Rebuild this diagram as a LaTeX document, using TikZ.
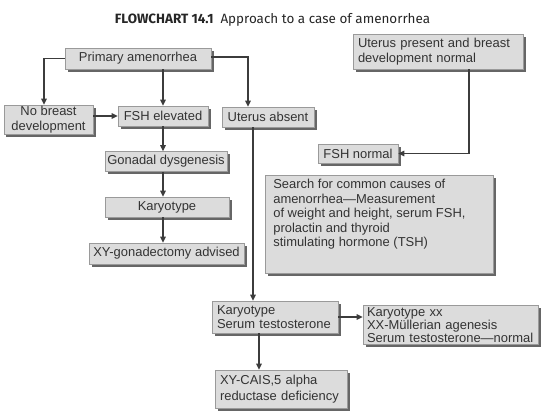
\documentclass[tikz,border=0pt]{standalone}
\usepackage{fontspec}
\setmainfont{Liberation Sans}
\newfontfamily\titlefont{Fira Sans}
\usepackage{tikz}
\usetikzlibrary{arrows.meta, positioning, shadows}
\definecolor{boxgray}{HTML}{DCDCDC}
\definecolor{edgegray}{HTML}{9A9A9A}
\definecolor{shadegray}{HTML}{666666}
\definecolor{linegray}{HTML}{3C3C3C}

\begin{document}
\begin{tikzpicture}[x=1bp, y=-1bp,
    box/.style={draw=edgegray, line width=0.6bp, fill=boxgray, inner sep=0pt, text=black!80,
        font=\fontsize{13}{14.5}\selectfont,
        drop shadow={shadow xshift=2.5bp, shadow yshift=-2.5bp, fill=shadegray, opacity=1}},
    leftbox/.style={box, align=left, inner xsep=5bp},
    arr/.style={-{Triangle[length=6bp, width=5.5bp]}, line width=1.2bp, draw=linegray},
]
\useasboundingbox (0,0) rectangle (546,417);

% Title
\node[font=\titlefont\fontsize{13.5}{15}\selectfont, text=black!85] (title) at (272.5,20) {\textbf{FLOWCHART 14.1}\hspace{7bp}Approach to a case of amenorrhea};

% Left branch
\node[box, minimum width=146bp, minimum height=21bp] (primary) at (138,58.5) {Primary amenorrhea};
\node[box, align=center, minimum width=89bp, minimum height=29bp] (nobreast) at (48.5,119.5) {No breast\\development};
\node[box, minimum width=90bp, minimum height=20bp] (fshhigh) at (163,116) {FSH elevated};
\node[box, minimum width=92bp, minimum height=20bp] (noutrus) at (268,117) {Uterus absent};
\node[box, minimum width=122bp, minimum height=20bp] (gonadal) at (166,161.5) {Gonadal dysgenesis};
\node[box, minimum width=124bp, minimum height=20bp] (karyo) at (167,207) {Karyotype};
\node[box, minimum width=155bp, minimum height=21bp] (gonadectomy) at (166.5,253.5) {XY-gonadectomy advised};

% Right branch
\node[leftbox, text width=160bp, minimum height=35bp] (uterusok) at (438,51.5) {Uterus present and breast\\development normal};
\node[box, minimum width=80bp, minimum height=19bp] (fshnormal) at (358,153.5) {FSH normal};
\node[box, anchor=north west, inner xsep=8bp, inner ysep=4bp] (search) at (265,175) {\parbox[c][90bp][t]{212bp}{\raggedright
    Search for common causes of\\
    amenorrhea---Measurement\\
    of weight and height, serum FSH,\\
    prolactin and thyroid\\
    stimulating hormone (TSH)}};

% Bottom
\node[leftbox, text width=116bp, minimum height=32bp] (karyoserum) at (275,317) {Karyotype\\Serum testosterone};
\node[leftbox, inner xsep=4bp, inner ysep=2bp, text width=167bp, minimum height=38bp, font=\fontsize{13}{12}\selectfont] (karyoxx) at (450.5,325) {Karyotype xx\\XX-Müllerian agenesis\\Serum testosterone---normal};
\node[leftbox, text width=122bp, minimum height=38bp] (cais) at (281,389) {XY-CAIS,5 alpha\\[1.5bp]reductase deficiency};

% Connectors
\draw[arr] (primary.west) -| ([xshift=-4.5bp]nobreast.north);
\draw[arr] (primary.south -| fshhigh.north) -- (fshhigh.north);
\draw[arr] ([yshift=1.5bp]primary.east) -| ([xshift=-20bp]noutrus.north);
\draw[arr] (nobreast.east |- fshhigh.west) -- (fshhigh.west);
\foreach \a/\b in {fshhigh/gonadal, gonadal/karyo, karyo/gonadectomy}
    \draw[arr] (\a.south -| fshhigh) -- (\b.north -| fshhigh);
\draw[arr] ([xshift=-15bp]noutrus.south) -- ([xshift=-15bp]noutrus.south |- karyoserum.north);
\draw[arr] ([xshift=31bp]uterusok.south) |- (fshnormal.east);
\draw[arr] (karyoserum.east) -- (karyoserum.east -| karyoxx.west);
\draw[arr] ([xshift=-16bp]karyoserum.south) -- ([xshift=-16bp]karyoserum.south |- cais.north);

\end{tikzpicture}
\end{document}
